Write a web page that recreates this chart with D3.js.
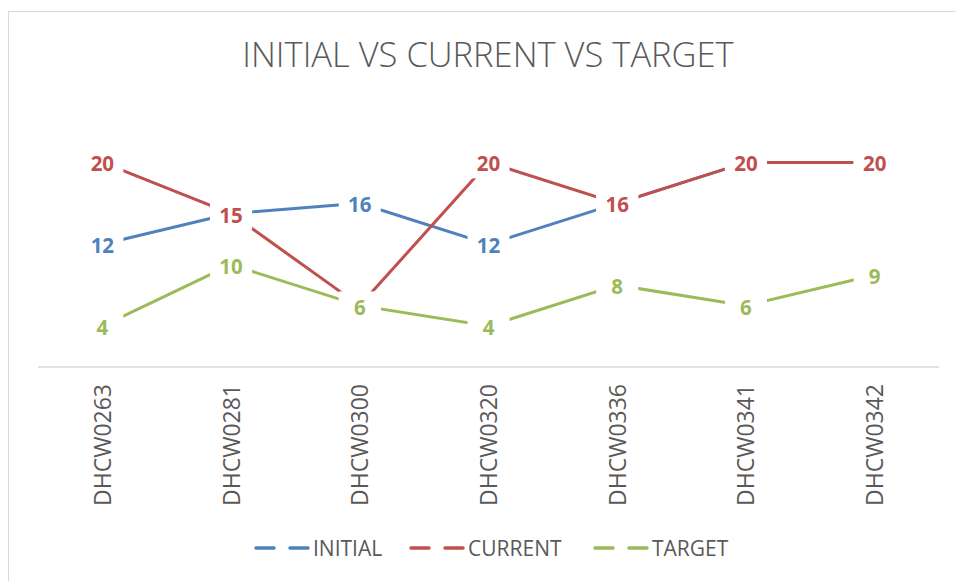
<!DOCTYPE html>
<html>
<head>
<meta charset="utf-8">
<script src="https://cdn.jsdelivr.net/npm/d3@7"></script>
<style>
  body { margin: 0; background: #fff; }
  svg { display: block; font-family: "Open Sans", sans-serif; }
</style>
</head>
<body>
<div id="chart"></div>
<script>
const categories = ['DHCW0263', 'DHCW0281', 'DHCW0300', 'DHCW0320', 'DHCW0336', 'DHCW0341', 'DHCW0342'];
const initialValues = [12, 15, 16, 12, 16, 20, 20];
const currentValues = [20, 15, 6, 20, 16, 20, 20];
const targetValues = [4, 10, 6, 4, 8, 6, 9];
const seriesNames = ['INITIAL', 'CURRENT', 'TARGET'];
const seriesColors = ['#4F81BD', '#C0504D', '#9BBB59'];

const series = [
    { name: seriesNames[0], color: seriesColors[0], values: initialValues },
    { name: seriesNames[1], color: seriesColors[1], values: currentValues },
    { name: seriesNames[2], color: seriesColors[2], values: targetValues }
];

const width = 956, height = 581;
const textColor = '#595959';

const svg = d3.select('#chart').append('svg')
    .attr('width', width)
    .attr('height', height);

// chart frame (cropped on the right and bottom in the reference)
svg.append('rect')
    .attr('x', 8.5).attr('y', 11.5)
    .attr('width', 1000).attr('height', 1000)
    .attr('fill', '#fff')
    .attr('stroke', '#D9D9D9');

svg.append('text')
    .attr('x', 488).attr('y', 67)
    .attr('text-anchor', 'middle')
    .attr('fill', textColor)
    .style('font-size', '34.5px')
    .style('font-weight', 300)
    .text('INITIAL VS CURRENT VS TARGET');

const x = d3.scalePoint()
    .domain(categories)
    .range([38, 939])
    .padding(0.5);

const y = d3.scaleLinear()
    .domain([0, 25])
    .range([367, 111.25]);

// category axis
const xAxis = svg.append('g')
    .attr('transform', `translate(0,${y(0)})`)
    .call(d3.axisBottom(x).tickSize(0).tickSizeOuter(0));

xAxis.select('.domain')
    .attr('stroke', '#D9D9D9')
    .attr('stroke-width', 1.5)
    .attr('d', `M38,0H939`);

xAxis.selectAll('.tick text')
    .attr('fill', textColor)
    .style('font-size', '23px')
    .style('font-family', '"Open Sans", sans-serif')
    .attr('text-anchor', 'end')
    .attr('dy', null)
    .attr('y', 0)
    .attr('transform', 'translate(8,17) rotate(-90)');

// lines
const line = d3.line()
    .x((d, i) => x(categories[i]))
    .y(d => y(d));

svg.append('g')
    .selectAll('path')
    .data(series)
    .join('path')
    .attr('d', d => line(d.values))
    .attr('fill', 'none')
    .attr('stroke', d => d.color)
    .attr('stroke-width', 3);

// data labels with white boxes, drawn over all lines
const labelGroups = svg.append('g')
    .selectAll('g')
    .data(series)
    .join('g');

labelGroups.each(function (s) {
    const g = d3.select(this);
    const labels = g.selectAll('g')
        .data(s.values.map((v, i) => ({ v, cat: categories[i] })))
        .join('g')
        .attr('transform', d => `translate(${x(d.cat)},${y(d.v)})`);

    labels.append('rect')
        .attr('x', -21).attr('y', -14)
        .attr('width', 42).attr('height', 30)
        .attr('fill', '#fff');

    labels.append('text')
        .attr('text-anchor', 'middle')
        .attr('y', 9)
        .attr('fill', s.color)
        .style('font-size', '20.5px')
        .style('font-weight', 700)
        .text(d => d.v);
});

// legend
const legendItems = [
    { name: seriesNames[0], color: seriesColors[0], x: 255 },
    { name: seriesNames[1], color: seriesColors[1], x: 410 },
    { name: seriesNames[2], color: seriesColors[2], x: 594 }
];

const legend = svg.append('g')
    .selectAll('g')
    .data(legendItems)
    .join('g')
    .attr('transform', d => `translate(${d.x},548)`);

legend.append('line')
    .attr('x1', 1).attr('x2', 19)
    .attr('stroke', d => d.color)
    .attr('stroke-width', 3.5)
    .attr('stroke-linecap', 'round');

legend.append('line')
    .attr('x1', 35).attr('x2', 53)
    .attr('stroke', d => d.color)
    .attr('stroke-width', 3.5)
    .attr('stroke-linecap', 'round');

legend.append('text')
    .attr('x', 58).attr('y', 8)
    .attr('fill', textColor)
    .style('font-size', '21px')
    .text(d => d.name);
</script>
</body>
</html>
